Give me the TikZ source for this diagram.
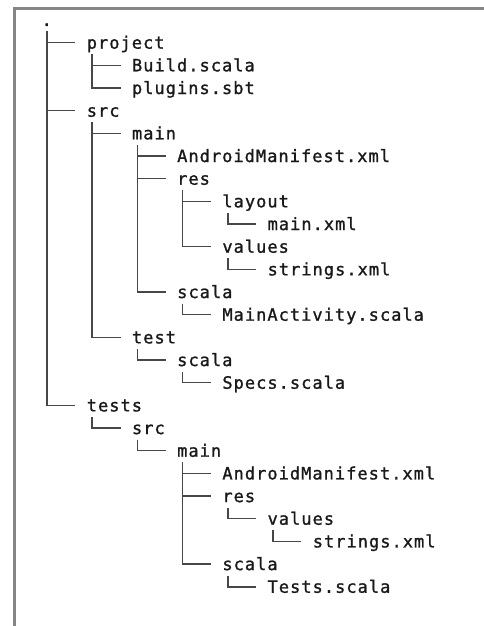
\documentclass[tikz,border=0pt]{standalone}
\usepackage{fontspec}
\newfontfamily\treefont{DejaVu Sans Mono}[LetterSpace=6.0,FakeBold=1.2]
\usetikzlibrary{positioning}

\tikzset{
  entry/.style={anchor=west,inner sep=0pt,text=black!90,
                text height=17.3pt,text depth=5.3pt,
                font=\treefont\fontsize{17}{20}\selectfont},
  branch/.style={draw=black!72,line width=1.5pt},
}
\newcommand{\dirnode}[4]{%
  \node[entry] (#1) at ({41.4+45.2*#2},{-20-22.67*#3}) {#4};}

\begin{document}
\begin{tikzpicture}[x=1pt,y=1pt]
\useasboundingbox (0,0) rectangle (484,-626);
\draw[gray!95,line width=3pt] (14.5,-626) -- (14.5,-8.5) -- (484,-8.5);

\dirnode{root}{0}{0}{.}
\dirnode{project}{1}{1}{project}
\dirnode{build}{2}{2}{Build.scala}
\dirnode{plugins}{2}{3}{plugins.sbt}
\dirnode{src}{1}{4}{src}
\dirnode{main}{2}{5}{main}
\dirnode{manifest}{3}{6}{AndroidManifest.xml}
\dirnode{res}{3}{7}{res}
\dirnode{layout}{4}{8}{layout}
\dirnode{mainxml}{5}{9}{main.xml}
\dirnode{values}{4}{10}{values}
\dirnode{strings}{5}{11}{strings.xml}
\dirnode{scala}{3}{12}{scala}
\dirnode{activity}{4}{13}{MainActivity.scala}
\dirnode{test}{2}{14}{test}
\dirnode{testscala}{3}{15}{scala}
\dirnode{specs}{4}{16}{Specs.scala}
\dirnode{tests}{1}{17}{tests}
\dirnode{tsrc}{2}{18}{src}
\dirnode{tmain}{3}{19}{main}
\dirnode{tmanifest}{4}{20}{AndroidManifest.xml}
\dirnode{tres}{4}{21}{res}
\dirnode{tvalues}{5}{22}{values}
\dirnode{tstrings}{6}{23}{strings.xml}
\dirnode{tscala}{4}{24}{scala}
\dirnode{tspecs}{5}{25}{Tests.scala}

\foreach \p/\c in {root/project,root/src,root/tests,
                   project/build,project/plugins,
                   src/main,src/test,
                   main/manifest,main/res,main/scala,
                   res/layout,res/values,layout/mainxml,values/strings,
                   scala/activity,test/testscala,testscala/specs,
                   tests/tsrc,tsrc/tmain,
                   tmain/tmanifest,tmain/tres,tmain/tscala,
                   tres/tvalues,tvalues/tstrings,tscala/tspecs}
  \draw[branch] ([xshift=5.6pt]\p.south west) |- ([xshift=-11.3pt]\c.west);
\end{tikzpicture}
\end{document}
